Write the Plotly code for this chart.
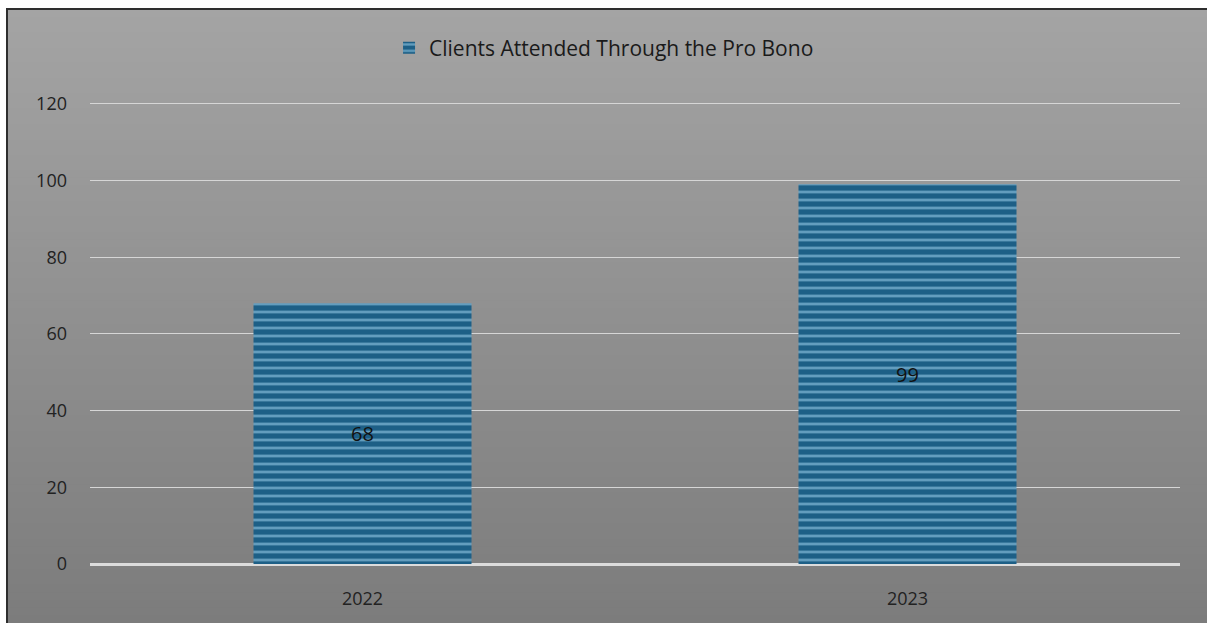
import plotly.graph_objects as go

categories = ["2022", "2023"]
values = [68, 99]
series_name = "Clients Attended Through the Pro Bono"
tick_vals = [0, 20, 40, 60, 80, 100, 120]

W, H = 1207, 623
L, R, T, B = 90, 27, 100, 59
pw, ph = W - L - R, H - T - B

def px_x(px):
    return (px - L) / pw

def px_y(py):
    return (H - B - py) / ph

fig = go.Figure()
fig.add_trace(go.Bar(
    x=categories, y=values, name=series_name,
    width=0.40,
    marker=dict(
        color="#1d5f86",
        line=dict(width=0),
        pattern=dict(shape="-", fgcolor="#a9dcf5", bgcolor="#1d5f86",
                     size=8, solidity=0.35, fillmode="overlay"),
    ),
    text=[str(v) for v in values],
    textposition="inside", insidetextanchor="middle",
    textfont=dict(size=20, color="#111111", family="Open Sans"),
    showlegend=True,
))

# gradient background (each band runs to the bottom, so no seams)
shapes = []
n = 80
top_c = (0xa4, 0xa4, 0xa4)
bot_c = (0x7c, 0x7c, 0x7c)
y0px, y1px = 9, H
for i in range(n):
    a = y0px + (y1px - y0px) * i / n
    t = (i + 0.5) / n
    c = tuple(round(top_c[k] + (bot_c[k] - top_c[k]) * t) for k in range(3))
    shapes.append(dict(type="rect", xref="paper", yref="paper", layer="below",
                       x0=px_x(7), x1=px_x(W + 2), y0=px_y(a), y1=px_y(H + 5),
                       line=dict(width=0), fillcolor="rgb(%d,%d,%d)" % c))
# border
shapes.append(dict(type="rect", xref="paper", yref="paper", layer="below",
                   x0=px_x(7), x1=px_x(W + 5), y0=px_y(9), y1=px_y(H + 5),
                   line=dict(width=2, color="#2e2e2e"), fillcolor="rgba(0,0,0,0)"))

fig.update_layout(
    width=W, height=H,
    margin=dict(l=L, r=R, t=T, b=B, pad=0),
    paper_bgcolor="white",
    plot_bgcolor="rgba(0,0,0,0)",
    shapes=shapes,
    font=dict(family="Open Sans", size=18, color="#222222"),
    legend=dict(orientation="h", x=0.4716, xanchor="center", y=px_y(48), yanchor="middle",
                font=dict(size=21, color="#1a1a1a"), bgcolor="rgba(0,0,0,0)",
                itemwidth=30),
    xaxis=dict(showgrid=False, showline=False, ticks="", ticklabelstandoff=22,
               tickfont=dict(size=18, color="#222222")),
    yaxis=dict(range=[0, 121], tickvals=tick_vals, showgrid=True,
               gridcolor="#d6d6d6", gridwidth=1, zeroline=True,
               zerolinecolor="#dcdcdc", zerolinewidth=3,
               ticklabelstandoff=22, tickfont=dict(size=18, color="#222222")),
)

fig.write_html("out.html")
